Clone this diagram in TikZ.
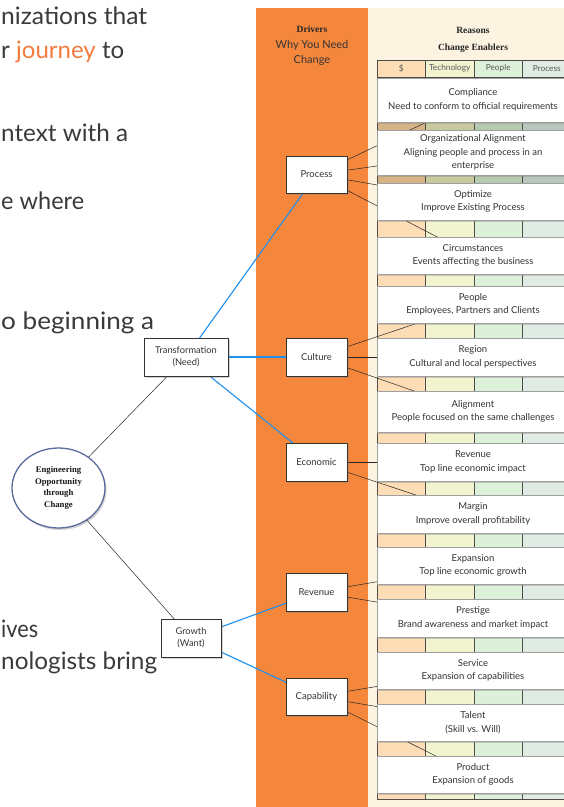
\documentclass[tikz,border=0pt]{standalone}
\usepackage{fontspec}
\setmainfont{Lato}
\newfontfamily\hfont{Liberation Serif}
\usetikzlibrary{shapes.geometric,shadows}
\definecolor{orng}{HTML}{F5873D}
\definecolor{cream}{HTML}{FDF3E1}
\definecolor{txt}{HTML}{333333}
\definecolor{bigtxt}{HTML}{3A3A3A}
\definecolor{journey}{HTML}{F47B3E}
\definecolor{blueln}{HTML}{1E90F0}
\definecolor{ellb}{HTML}{5B6B9E}
\definecolor{cA}{HTML}{FCDDB5}
\definecolor{cB}{HTML}{F2F4CF}
\definecolor{cC}{HTML}{DDF0DA}
\definecolor{cD}{HTML}{E0EBE4}
\definecolor{dA}{HTML}{D6B386}
\definecolor{dB}{HTML}{C8C99D}
\definecolor{dC}{HTML}{B6CAAF}
\definecolor{dD}{HTML}{B9C6BD}
\pgfdeclarelayer{bg}
\pgfdeclarelayer{edges}
\pgfsetlayers{bg,edges,main}
\newcommand{\fitw}[2]{\resizebox{#1pt}{\height}{#2}}
\tikzset{
  shad/.style={drop shadow={opacity=0.35, shadow xshift=1.5pt, shadow yshift=-2pt}},
  reason/.style={draw=gray!75, fill=white, minimum width=192pt, inner sep=1pt,
    align=center, text=txt, font=\fontsize{9.5}{13.5}\selectfont, shad},
  driver/.style={draw=black!80, fill=white, minimum width=61pt, minimum height=37pt,
    inner sep=1pt, align=center, text=txt, font=\fontsize{9.5}{12}\selectfont, shad},
  link/.style={draw=black!85, line width=0.5pt},
  blink/.style={draw=blueln, line width=1.1pt},
  big/.style={anchor=base west, inner sep=0pt, text=bigtxt, font=\fontsize{24}{28}\selectfont},
  hdr/.style={font=\fontsize{8.3}{9}\selectfont, text=black!65, inner sep=0pt},
  cell/.style={draw=black!70, line width=0.5pt}
}
\begin{document}
\begin{tikzpicture}[x=1pt,y=-1pt]
\useasboundingbox (0,0) rectangle (564,807);
\clip (0,0) rectangle (564,807);

% ---------- background panels and grid
\begin{pgfonlayer}{bg}
  \fill[white] (0,0) rectangle (564,807);
  \fill[orng] (256,8) rectangle (368,807);
  \fill[cream] (368,8) rectangle (564,807);
  \fill[cA] (377,60) rectangle (425.5,799);
  \fill[cB] (425.5,60) rectangle (474,799);
  \fill[cC] (474,60) rectangle (522.5,799);
  \fill[cD] (522.5,60) rectangle (571,799);
  \foreach \ya/\yb in {122/130,175/183}{
    \fill[dA] (377,\ya) rectangle (425.5,\yb);
    \fill[dB] (425.5,\ya) rectangle (474,\yb);
    \fill[dC] (474,\ya) rectangle (522.5,\yb);
    \fill[dD] (522.5,\ya) rectangle (571,\yb);
  }
  \foreach \xx in {377,425.5,474,522.5}{
    \draw[cell] (\xx,60) -- (\xx,799);
  }
  \draw[cell] (377,60) -- (571,60);
  \draw[cell] (377,77) -- (571,77);
  \draw[cell] (377,799) -- (571,799);
\end{pgfonlayer}

% ---------- left paragraph fragments
\node[big] (t1) at (1,24) {\fitw{146}{nizations that}};
\node[big] (t2) at (1,58) {\fitw{123}{r \textcolor{journey}{journey} to}};
\node[big] (t3) at (1,141) {\fitw{127}{ntext with a}};
\node[big] (t4) at (1,209) {\fitw{83}{e where}};
\node[big] (t5) at (1,329) {\fitw{153}{o beginning a}};
\node[big] (t6) at (1,637) {\fitw{37}{ives}};
\node[big] (t7) at (1,669) {\fitw{156}{nologists bring}};

% ---------- headers
\node[font=\hfont\bfseries\fontsize{9.5}{11}\selectfont, text=black!85] (drv) at (312,29) {Drivers};
\node[align=center, text=txt, font=\fontsize{11}{15}\selectfont] (why) at (312,53) {Why You Need\\Change};
\node[font=\hfont\bfseries\fontsize{9.5}{11}\selectfont, text=black!85] (rsn) at (473,30) {Reasons};
\node[font=\hfont\bfseries\fontsize{9.5}{11}\selectfont, text=black!85] (ce) at (473,48) {Change Enablers};
\node[hdr] (h1) at (401.25,68.5) {\$};
\node[hdr] (h2) at (449.75,68.5) {Technology};
\node[hdr] (h3) at (498.25,68.5) {People};
\node[hdr] (h4) at (546.75,68.5) {Process};

% ---------- reason boxes
\node[reason, minimum height=44pt] (compl) at (473,100) {Compliance\\Need to conform to official requirements};
\node[reason, minimum height=45pt] (orga) at (473,152.5) {Organizational Alignment\\Aligning people and process in an\\enterprise};
\node[reason, minimum height=37pt] (optim) at (473,201.5) {Optimize\\Improve Existing Process};
\node[reason, minimum height=37pt] (circ) at (473,255.5) {Circumstances\\Events affecting the business};
\node[reason, minimum height=37pt] (peop) at (473,304.5) {People\\Employees, Partners and Clients};
\node[reason, minimum height=38pt] (regn) at (473,357) {Region\\Cultural and local perspectives};
\node[reason, minimum height=41pt] (algn) at (473,411.5) {Alignment\\People focused on the same challenges};
\node[reason, minimum height=38pt] (revr) at (473,462) {Revenue\\Top line economic impact};
\node[reason, minimum height=38pt] (marg) at (473,514) {Margin\\Improve overall profitability};
\node[reason, minimum height=37pt] (expn) at (473,565.5) {Expansion\\Top line economic growth};
\node[reason, minimum height=38pt] (prst) at (473,618) {Prestige\\Brand awareness and market impact};
\node[reason, minimum height=37pt] (serv) at (473,670.5) {Service\\Expansion of capabilities};
\node[reason, minimum height=37pt] (tlnt) at (473,722.5) {Talent\\(Skill vs. Will)};
\node[reason, minimum height=37pt] (prod) at (473,774.5) {Product\\Expansion of goods};

% ---------- driver boxes
\node[driver] (proc) at (316.5,174.5) {Process};
\node[driver, minimum height=38pt] (cult) at (316.5,357) {Culture};
\node[driver, minimum height=38pt] (econ) at (316.5,462) {Economic};
\node[driver, minimum height=38pt] (revd) at (316.5,592) {Revenue};
\node[driver] (capa) at (316.5,696.5) {Capability};

% ---------- need / want
\node[driver, minimum width=84pt, minimum height=38pt, font=\fontsize{9.3}{12}\selectfont] (trans) at (186,357) {Transformation\\(Need)};
\node[driver, minimum width=60pt, minimum height=38pt, font=\fontsize{9.3}{12}\selectfont] (grow) at (191,638) {Growth\\(Want)};

% ---------- root
\node[ellipse, draw=ellb, line width=1.3pt, fill=white, minimum width=93pt, minimum height=80pt,
  inner sep=0pt, align=center, font=\hfont\bfseries\fontsize{8.7}{11.5}\selectfont, text=black!90, shad]
  (root) at (58.5,488) {Engineering\\Opportunity\\through\\Change};

% ---------- connectors
\begin{pgfonlayer}{edges}
  \draw[link] (root.center) -- (trans.center);
  \draw[link] (root.center) -- (grow.center);
  \draw[blink] (trans.center) -- (proc.center);
  \draw[blink] (trans.center) -- (cult.center);
  \draw[blink] (trans.center) -- (econ.center);
  \draw[blink] (grow.center) -- (revd.center);
  \draw[blink] (grow.center) -- (capa.center);
  \foreach \r in {compl,orga,optim,circ}{\draw[link] (proc.center) -- (\r.center);}
  \foreach \r in {peop,regn,algn}{\draw[link] (cult.center) -- (\r.center);}
  \foreach \r in {revr,marg}{\draw[link] (econ.center) -- (\r.center);}
  \foreach \r in {expn,prst}{\draw[link] (revd.center) -- (\r.center);}
  \foreach \r in {serv,tlnt,prod}{\draw[link] (capa.center) -- (\r.center);}
\end{pgfonlayer}
\end{tikzpicture}
\end{document}
